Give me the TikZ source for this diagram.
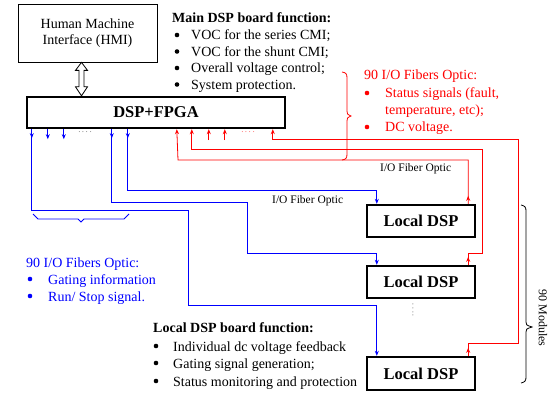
\documentclass[tikz,border=0pt]{standalone}
\usepackage{fontspec}
\setmainfont{Liberation Serif}
\usetikzlibrary{arrows.meta,decorations.markings,calc}
\begin{document}
\begin{tikzpicture}[x=1pt,y=-1pt,
  txt/.style={font=\fontsize{14}{16.7}\selectfont, inner sep=0, anchor=base west},
  hd/.style={inner sep=0, anchor=base west, font=\fontsize{14}{16.7}\selectfont\bfseries},
  bul/.style={circle, fill, inner sep=0, minimum size=4.6pt},
  lbl/.style={font=\fontsize{11.5}{13}\selectfont, inner sep=0, anchor=base west},
  hmibox/.style={draw, line width=0.8pt, minimum width=139pt, minimum height=58pt, inner sep=0, align=center, font=\fontsize{14}{16}\selectfont},
  thickbox/.style={draw, line width=2.4pt, inner sep=0, font=\fontsize{16.5}{18}\selectfont\bfseries},
  tip/.style={-{Stealth[length=5pt,width=4pt]}},
  blline/.style={blue, line width=0.8pt, tip, postaction={decorate},
     decoration={markings, mark=at position 9pt with {\arrow{Stealth[length=5pt,width=4pt]}}}},
  rdline/.style={red, line width=0.8pt, tip, postaction={decorate},
     decoration={markings, mark=at position 8pt with {\arrow{Stealth[length=5pt,width=4pt]}}}},
  stubb/.style={blue, line width=0.8pt, tip},
  stubr/.style={red, line width=0.8pt, tip},
  brace/.style={line width=0.8pt}
]
\useasboundingbox (0,0) rectangle (552,393);

% boxes
\node[hmibox] (hmi) at (87.5,33) {Human Machine\\Interface (HMI)};
\node[thickbox, minimum width=258pt, minimum height=31pt] (dsp) at (156,112.5) {DSP+FPGA};
\node[thickbox, minimum width=108pt, minimum height=32pt] (ld1) at (421,221) {Local DSP};
\node[thickbox, minimum width=108pt, minimum height=32pt] (ld2) at (421,282) {Local DSP};
\node[thickbox, minimum width=108pt, minimum height=33pt] (ld3) at (421,373.5) {Local DSP};

% hollow double arrow HMI <-> DSP
\coordinate (ha) at ([xshift=-6pt]hmi.south);
\coordinate (hb) at (ha |- dsp.north);
\draw[line width=0.8pt, fill=white] (ha) -- ($(ha)+(6,8)$) -- ($(ha)+(2.5,8)$) -- ($(hb)+(2.5,-9)$) -- ($(hb)+(6,-9)$) -- (hb)
  -- ($(hb)+(-6,-9)$) -- ($(hb)+(-2.5,-9)$) -- ($(ha)+(-2.5,8)$) -- ($(ha)+(-6,8)$) -- cycle;

% blue lines (DSP -> local DSPs)
\draw[blline] ([xshift=102pt]dsp.south west) |- ([xshift=11pt,yshift=13pt]ld1.north west) -- ([xshift=11pt]ld1.north west);
\draw[blline] ([xshift=86pt]dsp.south west) |- (247,202) |- ([xshift=11pt,yshift=11pt]ld2.north west) -- ([xshift=11pt]ld2.north west);
\draw[blline] ([xshift=6pt]dsp.south west) |- (188,210) |- ([xshift=11pt,yshift=50pt]ld3.north west) -- ([xshift=11pt]ld3.north west);
\draw[stubb] ([xshift=22pt]dsp.south west) -- ([xshift=22pt,yshift=-10pt]dsp.south west);
\draw[stubb] ([xshift=38pt]dsp.south west) -- ([xshift=38pt,yshift=-10pt]dsp.south west);
\node[font=\fontsize{9}{9}\selectfont, text=gray, inner sep=0] (bdots) at (85,132) {.\,.\,.\,.};

% red lines (local DSPs -> DSP)
\draw[rdline] ([xshift=-8pt]ld1.north east) |- (178,160) -- ([xshift=151pt]dsp.south west);
\draw[rdline] ([xshift=-8pt]ld2.north east) -- ([xshift=-8pt,yshift=11pt]ld2.north east) -| (482,149) -| ([xshift=166pt]dsp.south west);
\draw[rdline] ([xshift=-8pt]ld3.north east) -- ([xshift=-8pt,yshift=12pt]ld3.north east) -| (518,139) -| ([xshift=247pt]dsp.south west);
\draw[stubr] ([xshift=183pt,yshift=-11pt]dsp.south west) -- ([xshift=183pt]dsp.south west);
\draw[stubr] ([xshift=199pt,yshift=-11pt]dsp.south west) -- ([xshift=199pt]dsp.south west);
\node[font=\fontsize{9}{9}\selectfont, text=red!60, inner sep=0] (rdots) at (248,132) {.\,.\,.\,.};

% vertical dots between local DSPs
\node[rotate=90, font=\fontsize{9}{9}\selectfont, text=gray, inner sep=0] (vdots) at (413,310) {.\,.\,.\,.};

% labels
\node[lbl] (lab1) at (380,172) {I/O Fiber Optic};
\node[lbl] (lab2) at (272,204) {I/O Fiber Optic};

% braces
\draw[brace, red] (342,72) .. controls (346,72.5) and (347,74) .. (347,78) -- (347,111) .. controls (347,114) .. (351,116) .. controls (347,118) .. (347,121) -- (347,154) .. controls (347,158) and (346,159.5) .. (342,160);
\draw[brace, blue] (33,214) -- (38,219) -- (78,219) -- (81,222) -- (84,219) -- (124,219) -- (129,214);
\draw[brace] (521,205) .. controls (525,206) and (526,207) .. (526,211) -- (526,322) .. controls (526,325) .. (532,327) .. controls (526,329) .. (526,332) -- (526,377) .. controls (526,381) and (525,382) .. (521,383);
\node[rotate=-90, font=\fontsize{12}{12}\selectfont, inner sep=0] (mods) at (543,318) {90 Modules};

% Main DSP board function
\node[hd] (mt) at (172,23) {Main DSP board function:};
\foreach \y/\t in {40/{VOC for the series CMI;}, 56.5/{VOC for the shunt CMI;}, 73/{Overall voltage control;}, 89.5/{System protection.}} {
  \node[bul] at (177,\y-5) {};
  \node[txt] at (191,\y) {\t};
}

% red text
\node[txt, text=red] (rt) at (364,80) {90 I/O Fibers Optic:};
\node[bul, red] at (367,93) {};
\node[txt, text=red] at (385,98) {Status signals (fault,};
\node[txt, text=red] at (385,115) {temperature, etc);};
\node[bul, red] at (367,127) {};
\node[txt, text=red] at (385,132) {DC voltage.};

% blue text
\node[txt, text=blue] (bt) at (26,267) {90 I/O Fibers Optic:};
\node[bul, blue] at (30,279) {};
\node[txt, text=blue] at (48,284) {Gating information};
\node[bul, blue] at (30,296) {};
\node[txt, text=blue] at (48,301) {Run/ Stop signal.};

% Local DSP board function
\node[hd] (lt) at (153,332) {Local DSP board function:};
\foreach \y/\t in {351/{Individual dc voltage feedback}, 368/{Gating signal generation;}, 386/{Status monitoring and protection}} {
  \node[bul] at (156,\y-5) {};
  \node[txt] at (173,\y) {\t};
}
\end{tikzpicture}
\end{document}
